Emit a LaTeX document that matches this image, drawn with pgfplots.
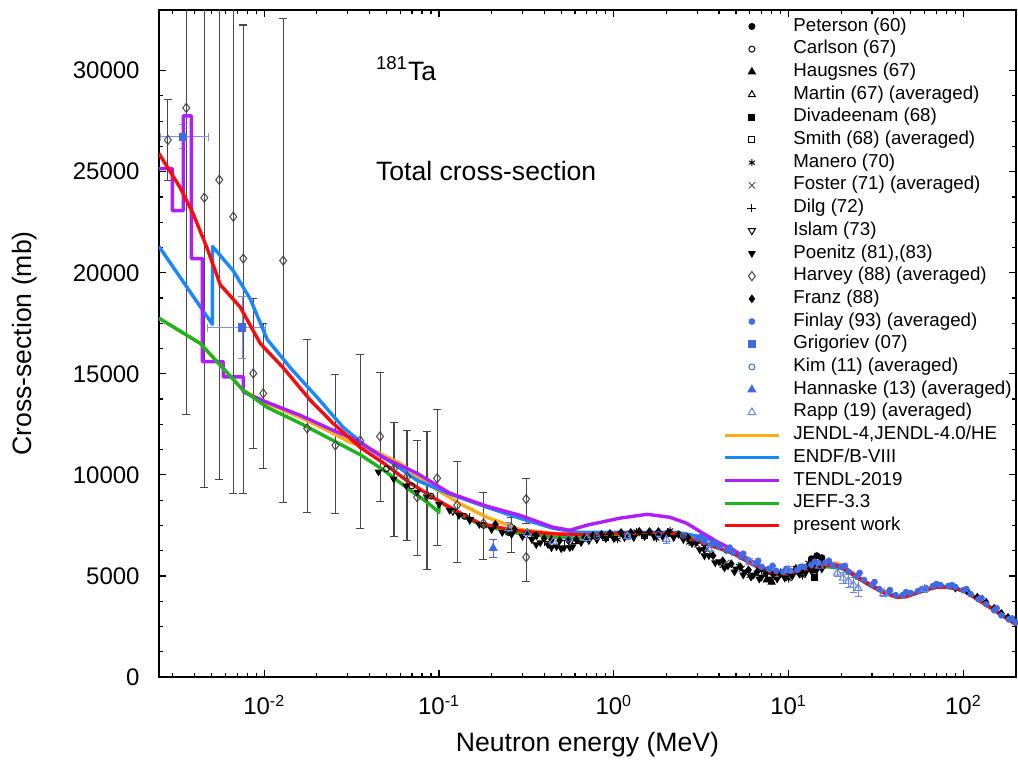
\documentclass[border=0pt]{standalone}
\usepackage{fontspec}
\setmainfont{Liberation Sans}
\usepackage{pgfplots}
\pgfplotsset{compat=1.18}
\definecolor{cJENDL}{RGB}{255,172,20}
\definecolor{cENDF}{RGB}{25,135,255}
\definecolor{cTENDL}{RGB}{175,30,250}
\definecolor{cJEFF}{RGB}{30,180,30}
\definecolor{cRED}{RGB}{250,10,10}
\definecolor{mblue}{RGB}{65,105,225}
\definecolor{ebar}{RGB}{70,70,70}
\pgfplotsset{
  mk/.style={only marks, mark size=1.5pt, line width=0.5pt,
    legend image code/.code={\draw[mark repeat=2,mark phase=2,##1] plot coordinates {(0pt,0pt) (13.5pt,0pt) (27pt,0pt)};}},
  ln/.style={no marks, line width=1.7pt, line join=round,
    legend image code/.code={\draw[##1, line width=1.5pt] (0pt,0pt) -- (27pt,0pt);}},
}
\begin{document}
\begin{tikzpicture}
\path[use as bounding box] (-79.5pt,-43.5pt) rectangle (429.5pt,338.5pt);
\begin{axis}[
  scale only axis, width=428.5pt, height=333.5pt,
  xmode=log, xmin=0.0025, xmax=200, ymin=0, ymax=33000,
  axis line style={line width=0.75pt},
  every tick/.style={black, line width=0.6pt},
  major tick length=3.5pt, minor tick length=2pt,
  xtick={0.01,0.1,1,10,100},
  xticklabels={10\textsuperscript{-2},10\textsuperscript{-1},10\textsuperscript{0},10\textsuperscript{1},10\textsuperscript{2}},
  minor xtick={0.003,0.004,0.005,0.006,0.007,0.008,0.009,0.02,0.03,0.04,0.05,0.06,0.07,0.08,0.09,0.2,0.3,0.4,0.5,0.6,0.7,0.8,0.9,2,3,4,5,6,7,8,9,20,30,40,50,60,70,80,90,200},
  ytick={0,5000,10000,15000,20000,25000,30000},
  yticklabels={0,5000,10000,15000,20000,25000,30000},
  minor y tick num=3,
  tick label style={font=\fontsize{12}{14}\selectfont},
  xticklabel style={anchor=base, yshift=-19pt},
  yticklabel style={anchor=east, inner sep=0pt, xshift=-9.5pt},
  xlabel={Neutron energy (MeV)},
  ylabel={Cross-section (mb)},
  every axis x label/.style={at={(rel axis cs:0.5,-0.102)}, anchor=center, font=\fontsize{13.3}{16}\selectfont},
  every axis y label/.style={at={(rel axis cs:-0.1564,0.5)}, anchor=center, rotate=90, font=\fontsize{13.3}{16}\selectfont},
  legend cell align=left,
  legend style={draw=none, fill=none, at={(0.6581,1)}, anchor=north west, yshift=-2.35pt,
    font=\fontsize{9.35}{11}\selectfont, inner sep=0pt, row sep=0pt, column sep=6.5pt,
    nodes={inner sep=0pt, text height=8pt, text depth=3.35pt}},
]
% Peterson (60)
\addplot[mk, mark=*, black] coordinates {(13.5,5850) (14.5,6000) (15.5,5900)};
\addlegendentry{Peterson (60)}
% Carlson (67)
\addplot[mk, mark=o, black] coordinates {(0.05,10300) (0.07,9450) (0.09,8950) (0.14,7950) (0.18,7500) (0.25,7150)};
\addlegendentry{Carlson (67)}
% Haugsnes (67)
\addplot[mk, mark=triangle*, mark size=2pt, black] coordinates {(8.0,4690) (7.5,4800)};
\addlegendentry{Haugsnes (67)}
% Martin (67)
\addplot[mk, mark=triangle, mark size=2pt, black] coordinates {(0.35,6950) (0.6,6700) (1.2,7000) (2.0,7050)};
\addlegendentry{Martin (67) (averaged)}
% Divadeenam (68)
\addplot[mk, mark=square*, black] coordinates {(14.1,4940)};
\addlegendentry{Divadeenam (68)}
% Smith (68)
\addplot[mk, mark=square, black] coordinates {(0.5,6600) (0.9,6900) (1.5,7000)};
\addlegendentry{Smith (68) (averaged)}
% Manero (70)
\addplot[mk, mark=asterisk, mark size=1.8pt, black] coordinates {
(1.05,6800) (1.35,7200) (1.75,6850) (2.1,7250) (2.7,6650) (3.3,6450) (4.2,5500) (5.2,5500)
(6.0,5000) (7.0,5250) (8.0,4750) (9.0,5200) (10.0,4850) (11.0,5400) (12.0,5000) (13.0,5650) (14.0,5200)};
\addlegendentry{Manero (70)}
% Foster (71)
\addplot[mk, mark=x, mark size=2.2pt, black!70] coordinates {
(2.5,7000) (3.0,6550) (3.6,6100) (4.4,5650) (5.4,5350) (6.6,5100) (8.1,4950) (9.9,5050) (12,5300) (14.5,5500)};
\addlegendentry{Foster (71) (averaged)}
% Dilg (72)
\addplot[mk, mark=+, mark size=2.2pt, black] coordinates {(0.15,7900) (0.4,6700) (1.0,6900)};
\addlegendentry{Dilg (72)}
% Islam (73)
\addplot[mk, mark=triangle, mark size=2pt, mark options={rotate=180}, black] coordinates {(0.12,8200) (0.25,7200)};
\addlegendentry{Islam (73)}
% Poenitz (81),(83)
\addplot[mk, mark=triangle*, mark size=1.8pt, mark options={rotate=180}, black] coordinates {
(0.045,10150) (0.055,9800) (0.065,9450) (0.075,9150) (0.085,8900) (0.1,8550) (0.115,8250) (0.13,8000)
(0.15,7750) (0.17,7550) (0.2,7300) (0.23,7150) (0.26,7050) (0.3,6950) (0.34,6800) (0.38,6650)
(0.42,6550) (0.47,6450) (0.52,6400) (0.58,6450) (0.65,6650) (0.72,6750) (0.8,6800) (0.9,6850)
(1.0,6850) (1.15,6900) (1.3,6900) (1.5,6950) (1.7,6950) (1.9,6950) (2.2,6900) (2.5,6800)
(2.8,6600) (3.1,6300) (3.5,6000) (4.0,5700) (4.5,5500) (5.0,5350) (5.6,5200) (6.3,5050)
(7.0,4950) (7.8,4850) (8.6,4850) (9.5,4900) (10.5,5000) (11.5,5100) (12.5,5150) (13.5,5250)
(14.5,5300) (15.5,5350)
(0.36,6550) (0.44,6400) (0.50,6350) (0.56,6400) (3.3,6000) (3.8,5650) (4.3,5400) (4.9,5200)
(5.5,5050) (6.1,4950) (6.8,4850)};
\addlegendentry{Poenitz (81),(83)}
% Harvey (88)
\addplot[mk, mark=diamond, mark size=2.3pt, ebar,
  error bars/.cd, y dir=both, y explicit,
  error bar style={ebar, line width=0.55pt},
  error mark options={rotate=90, ebar, line width=0.55pt, mark size=2pt}]
  table[x=x, y=y, y error plus=ep, y error minus=em] {
x y ep em
0.00281 26570 1980 2020
0.00358 28158 12000 15166
0.00454 23712 16000 14326
0.00553 24600 16000 14819
0.00665 22773 17000 13683
0.00759 20700 11558 11610
0.00865 15017 3705 3704
0.00987 14030 3460 3705
0.01284 20600 12000 11955
0.0176 12300 4397 4149
0.0255 11460 3508 3360
0.0354 11700 4256 4340
0.0460 11900 3167 3210
0.0553 10325 2275 3355
0.0656 9900 2300 3130
0.0749 8900 2800 2870
0.0854 9000 3150 3670
0.0975 9830 3410 3310
0.127 8500 2170 2820
0.1796 7600 1540 1770
0.259 7400 500 1230
0.315 8800 1040 1200
0.315 5930 970 1190
};
\addlegendentry{Harvey (88) (averaged)}
% Franz (88)
\addplot[mk, mark=diamond*, mark size=1.8pt, black] coordinates {
(0.21,7550) (0.27,7300) (0.32,7150) (0.36,7000) (0.40,6850) (0.44,6800) (0.49,6750) (0.55,6750)
(0.61,6800) (0.68,6900) (0.76,7000) (0.85,7050) (0.95,7100) (1.1,7150) (1.25,7150) (1.4,7200)
(1.6,7200) (1.8,7200) (2.05,7150) (2.35,7050) (2.65,6900) (2.95,6650) (3.3,6300) (3.7,6000)
(4.2,5750) (4.7,5600) (5.3,5450) (5.9,5300) (6.6,5200) (7.4,5100) (8.2,5100) (9.0,5100)
(10,5250) (11,5350) (12,5400) (13,5500) (14,5600) (15,5650)
(90,4400) (105,4250) (120,3950) (135,3700) (150,3400) (165,3150) (180,2950)};
\addlegendentry{Franz (88)}
% Finlay (93)
\addplot[mk, mark=*, mark size=1.4pt, mblue] coordinates {
(3.0,6850) (3.3,6700) (3.6,6550) (4.0,6450) (4.4,6250) (4.8,6150) (5.3,5950) (5.8,5800)
(6.4,5600) (7.0,5450) (7.7,5350) (8.5,5250) (9.3,5200) (10.2,5250) (11.2,5300) (12.3,5450)
(13.5,5550) (14.8,5650) (16.3,5650) (18,5500) (20,5450) (22,5200) (24.5,5000) (27,4800)
(30,4550) (33,4350) (37,4150) (41,4050) (45,4050) (50,4150) (55,4250) (61,4400) (67,4500)
(74,4550) (82,4500) (90,4450) (100,4300) (110,4100) (122,3850) (135,3600) (150,3300)
(165,3050) (182,2850) (200,2700)
(3.15,6950) (3.8,6650) (4.6,6400) (5.5,6100) (6.7,5750) (8.1,5500) (9.7,5350) (11.7,5450)
(14.1,5700) (17,5750) (21,5500) (25.5,5150) (31,4700) (38,4300) (47,4200) (58,4350)
(70,4600) (86,4550) (104,4350) (127,3900) (155,3400) (190,2900)};
\addlegendentry{Finlay (93) (averaged)}
% Grigoriev (07)
\addplot[mk, mark=square*, mark size=1.8pt, mblue,
  error bars/.cd, x dir=both, x explicit, y dir=both, y explicit,
  error bar style={mblue!70, line width=0.55pt},
  error mark options={rotate=90, mblue!70, line width=0.55pt, mark size=2pt}]
  table[x=x, y=y, x error plus=xp, x error minus=xm, y error plus=yp, y error minus=ym] {
x y xp xm yp ym
0.00344 26725 0.00135 0.00089 600 600
0.00749 17290 0.00264 0.00277 1550 1550
};
\addlegendentry{Grigoriev (07)}
% Kim (11)
\addplot[mk, mark=o, mblue] coordinates {(0.55,6850) (0.8,6950) (1.2,7000) (1.8,7050) (2.5,7000)};
\addlegendentry{Kim (11) (averaged)}
% Hannaske (13)
\addplot[mk, mark=triangle*, mark size=2.2pt, mblue,
  error bars/.cd, y dir=both, y explicit,
  error bar style={mblue, line width=0.55pt},
  error mark options={rotate=90, mblue, line width=0.55pt, mark size=2pt}]
  table[x=x, y=y, y error plus=ep, y error minus=em] {
x y ep em
0.204 6373 450 450
};
\addlegendentry{Hannaske (13) (averaged)}
% Rapp (19)
\addplot[mk, mark=triangle, mark size=2.2pt, mblue!80,
  error bars/.cd, y dir=both, y explicit,
  error bar style={mblue!80, line width=0.5pt},
  error mark options={rotate=90, mblue!80, line width=0.5pt, mark size=1.8pt}]
  table[x=x, y=y, y error plus=ep, y error minus=em] {
x y ep em
0.25 7350 300 300
0.32 7100 200 200
0.45 6700 200 200
0.7 6850 150 150
1.2 6950 150 150
2.0 6800 200 200
3.5 6350 150 150
6 5700 150 150
10 5300 150 150
15 5500 200 200
19 5150 200 200
20.5 4900 250 250
22 4750 300 300
23.5 4550 350 350
25 4400 400 400
35 4150 150 150
60 4350 150 150
};
\addlegendentry{Rapp (19) (averaged)}
% Evaluations
\addplot[ln, cJENDL] coordinates {
(0.0025,17750) (0.00431,16500) (0.00759,14180) (0.0104,13535) (0.0161,12844) (0.0248,12054)
(0.031,11609) (0.0388,11362) (0.0599,10572) (0.0853,9584) (0.1,9200) (0.13,8600) (0.188,7900)
(0.29,7300) (0.448,7100) (0.7,7050) (1.08,7100) (2.29,7100) (3.1,6680) (3.9,6410) (4.79,6130)
(6,5660) (7.48,5210) (8.3,5100) (9.24,5070) (11.56,5240) (14,5480) (16.5,5600) (18.5,5640)
(20.4,5520) (24,5020) (27.9,4650) (34,4240) (41.4,3960) (47,3990) (53.8,4160) (62,4340)
(70,4450) (80,4460) (90,4390) (104,4210) (120,3860) (141,3470) (170,3010) (200,2610)};
\addlegendentry{JENDL-4,JENDL-4.0/HE}
\addplot[ln, cENDF] coordinates {
(0.0025,21300) (0.00505,17450) (0.00506,21300) (0.00665,20100) (0.00832,18700) (0.0104,16700)
(0.0141,15300) (0.0201,13830) (0.0283,12350) (0.0388,11360) (0.0546,10570) (0.0748,9730)
(0.1156,9050) (0.188,8400) (0.290,7855) (0.448,7360) (0.615,7160) (1.08,7160) (2.29,7160)
(3.23,6920) (4.03,6620) (4.79,6300) (6,5760) (7.48,5300) (8.3,5150) (9.24,5100) (11.56,5200)
(14,5400) (16.5,5500) (18.5,5480) (20.4,5400) (24,5010) (27.9,4650) (34,4240) (41.4,3950)
(47,3980) (53.8,4150) (62,4330) (70,4440) (80,4450) (90,4380) (104,4200) (120,3850) (141,3460)
(170,3010) (200,2620)};
\addlegendentry{ENDF/B-VIII}
\addplot[ln, cTENDL] coordinates {
(0.0025,25150) (0.00298,25150) (0.00298,23070) (0.00344,23070) (0.00344,27760) (0.00383,27760)
(0.00383,20700) (0.00443,20700) (0.00443,15600) (0.00583,15600) (0.00583,14850) (0.00759,14850)
(0.00759,14100) (0.0104,13585) (0.0161,12943) (0.0248,12200) (0.034,11708) (0.0479,10868)
(0.0748,10078) (0.1156,9090) (0.188,8450) (0.290,8003) (0.448,7410) (0.561,7262) (0.701,7509)
(1.08,7855) (1.55,8050) (2.09,7904) (2.61,7608) (3.23,7114) (4.03,6620) (4.79,6300) (6,5780)
(7.48,5320) (8.3,5200) (9.24,5170) (11.56,5320) (14,5530) (16.5,5620) (18.5,5560) (20.4,5460)
(24,5050) (27.9,4690) (34,4270) (41.4,3980) (47,4010) (53.8,4170) (62,4350) (70,4460) (80,4470)
(90,4400) (104,4220) (120,3870) (141,3480) (170,3030) (200,2640)};
\addlegendentry{TENDL-2019}
\addplot[ln, cJEFF] coordinates {
(0.0025,17750) (0.00431,16500) (0.00759,14180) (0.0104,13340) (0.0161,12550) (0.0248,11700)
(0.0354,11000) (0.0479,10250) (0.0682,9250) (0.0853,8650) (0.1,8150) (0.1001,8700) (0.130,8050)
(0.171,7550) (0.265,7150) (0.448,6920) (0.615,6870) (1.08,7015) (2.29,7100) (3.10,6700)
(3.9,6400) (4.79,6140) (6,5650) (7.48,5200) (8.3,5090) (9.24,5050) (11.56,5180) (14,5380)
(16.5,5450) (18.5,5420) (20.4,5350) (24,4990) (27.9,4630) (34,4230) (41.4,3950) (47,3980)
(53.8,4150) (62,4330) (70,4440) (80,4450) (90,4380) (104,4200) (120,3850) (141,3460) (170,3000)
(200,2600)};
\addlegendentry{JEFF-3.3}
\addplot[ln, cRED] coordinates {
(0.0025,25900) (0.00331,24200) (0.00393,22900) (0.00472,21200) (0.00561,19400) (0.00729,18300)
(0.00949,16500) (0.01284,15300) (0.01833,13700) (0.02478,12550) (0.0354,11360) (0.0479,10600)
(0.0682,9600) (0.1,8700) (0.130,8150) (0.171,7600) (0.265,7260) (0.448,7080) (0.701,7030)
(1.08,7110) (1.67,7110) (2.29,7110) (3.10,6670) (3.9,6400) (4.79,6125) (6,5650) (7.48,5190)
(8.3,5080) (9.24,5040) (11.56,5190) (14,5420) (16.5,5530) (18.5,5500) (20.4,5385) (24,5000)
(27.9,4640) (34,4230) (41.4,3950) (47,3980) (53.8,4150) (62,4330) (70,4440) (80,4450) (90,4380)
(104,4200) (120,3850) (141,3460) (170,3000) (200,2600)};
\addlegendentry{present work}
\node[anchor=base west, font=\fontsize{13.3}{16}\selectfont] at (rel axis cs:0.245,0.895) {\textsuperscript{181}Ta};
\node[anchor=base west, font=\fontsize{13.3}{16}\selectfont] at (rel axis cs:0.245,0.745) {Total cross-section};
\end{axis}
\end{tikzpicture}
\end{document}
